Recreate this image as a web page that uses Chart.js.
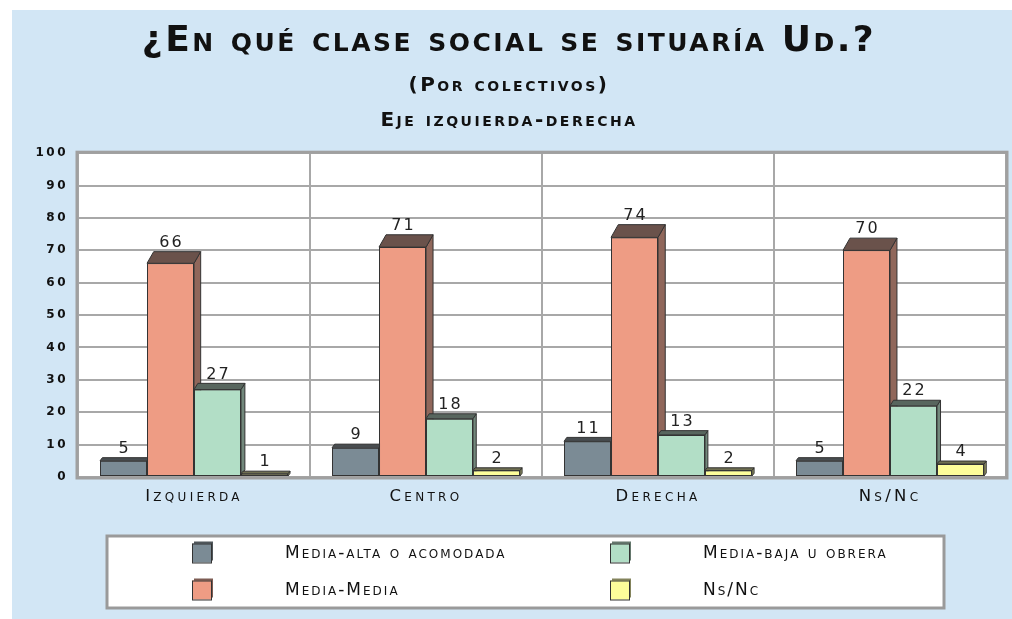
<!DOCTYPE html>
<html>
<head>
<meta charset="utf-8">
<script src="https://cdn.jsdelivr.net/npm/chart.js@4.4.1/dist/chart.umd.min.js"></script>
<style>
  html, body { margin: 0; padding: 0; background: #fff; }
  canvas { display: block; }
</style>
</head>
<body>
<canvas id="chart" width="1012" height="619"></canvas>
<script>
// data
const categories = ['Izquierda', 'Centro', 'Derecha', 'Ns/Nc'];
const seriesNames = ['Media-alta o acomodada', 'Media-Media', 'Media-baja u obrera', 'Ns/Nc'];
const mediaAlta = [5, 9, 11, 5];
const mediaMedia = [66, 71, 74, 70];
const mediaBaja = [27, 18, 13, 22];
const nsNc = [1, 2, 2, 4];
const yMin = 0;
const yMax = 100;
const yStep = 10;

const colors = ['#7b8b95', '#ee9c84', '#b2dec6', '#fdfd9a'];
const FONT = '"DejaVu Sans"';

// mix a hex colour toward dark grey for the 3D faces
const shade = (hex, k) => {
    const n = parseInt(hex.slice(1), 16);
    const r = (n >> 16) & 255, g = (n >> 8) & 255, b = n & 255;
    const m = c => Math.round(c * (1 - k) + 50 * k);
    return `rgb(${m(r)},${m(g)},${m(b)})`;
};

// blue panel + white plot area
const background = {
    id: 'background',
    beforeDraw(chart) {
        const { ctx, chartArea: a } = chart;
        ctx.save();
        ctx.fillStyle = '#fff';
        ctx.fillRect(0, 0, chart.width, chart.height);
        ctx.fillStyle = '#d2e6f5';
        ctx.fillRect(12, 10, chart.width - 12, chart.height - 10);
        ctx.fillStyle = '#fff';
        ctx.fillRect(a.left, a.top, a.right - a.left, a.bottom - a.top);
        ctx.restore();
        // spacing for titles and y ticks
        ctx.letterSpacing = '2.5px';
    },
    beforeDatasetsDraw(chart) {
        const { ctx, chartArea: a } = chart;
        ctx.save();
        ctx.strokeStyle = '#a0a0a0';
        ctx.lineWidth = 3;
        ctx.strokeRect(a.left - 1, a.top - 1, a.right - a.left + 2, a.bottom - a.top + 2);
        ctx.restore();
    }
};

// 3D tops and sides, then value labels
const bars3d = {
    id: 'bars3d',
    afterDatasetsDraw(chart) {
        const ctx = chart.ctx;
        const metas = chart.data.datasets.map((d, i) => chart.getDatasetMeta(i));
        const tops = [];
        ctx.save();
        ctx.letterSpacing = '0px';
        categories.forEach((c, j) => {
            metas.forEach((meta, i) => {
                const el = meta.data[j];
                const { x, y, base, width } = el.getProps(['x', 'y', 'base', 'width'], true);
                const h = base - y;
                const dx = 2 + 0.022 * h;
                const dy = 2.5 + 0.043 * h;
                const l = x - width / 2, r = x + width / 2;
                el.draw(ctx);
                const col = colors[i];
                ctx.lineWidth = 1;
                ctx.strokeStyle = '#333';
                // side
                ctx.fillStyle = shade(col, 0.5);
                ctx.beginPath();
                ctx.moveTo(r, y);
                ctx.lineTo(r + dx, y - dy);
                ctx.lineTo(r + dx, base - dy);
                ctx.lineTo(r, base);
                ctx.closePath();
                ctx.fill();
                ctx.stroke();
                // top
                ctx.fillStyle = shade(col, 0.7);
                ctx.beginPath();
                ctx.moveTo(l, y);
                ctx.lineTo(l + dx, y - dy);
                ctx.lineTo(r + dx, y - dy);
                ctx.lineTo(r, y);
                ctx.closePath();
                ctx.fill();
                ctx.stroke();
                tops.push({ x, y: y - dy, v: chart.data.datasets[i].data[j] });
            });
        });
        ctx.font = '16px ' + FONT;
        ctx.letterSpacing = '2px';
        ctx.fillStyle = '#222';
        ctx.textAlign = 'center';
        ctx.textBaseline = 'middle';
        tops.forEach(t => ctx.fillText(String(t.v), t.x + 1, t.y - 9));
        ctx.restore();
        // spacing for x tick labels (drawn after datasets)
        ctx.letterSpacing = '3.3px';
    },
    afterDraw(chart) {
        const ctx = chart.ctx;
        ctx.save();
        ctx.letterSpacing = '0px';
        // legend box
        ctx.fillStyle = '#fff';
        ctx.fillRect(107, 536, 837, 72);
        ctx.strokeStyle = '#9a9a9a';
        ctx.lineWidth = 3;
        ctx.strokeRect(107, 536, 837, 72);
        const cols = [192, 610];
        const rows = [553, 590];
        chart.data.datasets.forEach((ds, i) => {
            const sx = cols[Math.floor(i / 2)];
            const cy = rows[i % 2];
            const s = 19;
            ctx.lineWidth = 1;
            ctx.strokeStyle = '#333';
            ctx.fillStyle = shade(colors[i], 0.6);
            ctx.fillRect(sx + 2, cy - s / 2 - 2, s, s);
            ctx.fillStyle = colors[i];
            ctx.fillRect(sx, cy - s / 2, s, s);
            ctx.strokeRect(sx + 0.5, cy - s / 2 + 0.5, s, s);
            ctx.font = 'small-caps 17px ' + FONT;
            ctx.letterSpacing = '2px';
            ctx.fillStyle = '#111';
            ctx.textAlign = 'left';
            ctx.textBaseline = 'middle';
            ctx.fillText(ds.label, sx + 93, cy + 1);
        });
        ctx.restore();
    }
};

const makeSet = (i, data) => ({
    label: seriesNames[i],
    data,
    backgroundColor: colors[i],
    borderColor: '#333',
    borderWidth: 1,
    borderSkipped: false
});

new Chart(document.getElementById('chart'), {
    type: 'bar',
    data: {
        labels: categories,
        datasets: [
            makeSet(0, mediaAlta),
            makeSet(1, mediaMedia),
            makeSet(2, mediaBaja),
            makeSet(3, nsNc)
        ]
    },
    options: {
        responsive: false,
        animation: false,
        devicePixelRatio: 1,
        layout: { padding: { top: 10, left: 12, right: 6, bottom: 0 } },
        datasets: { bar: { categoryPercentage: 0.81, barPercentage: 1 } },
        plugins: {
            legend: { display: false },
            tooltip: { enabled: false },
            title: {
                display: true,
                text: '¿En qué clase social se situaría Ud.?',
                color: '#111',
                font: { family: FONT, size: 36, weight: 'small-caps bold', lineHeight: 1.2 },
                padding: { top: 10, bottom: 5 }
            },
            subtitle: {
                display: true,
                text: ['(Por colectivos)', 'Eje izquierda-derecha'],
                color: '#111',
                font: { family: FONT, size: 20, weight: 'small-caps bold', lineHeight: 1.75 },
                padding: { top: 0, bottom: 15 }
            }
        },
        scales: {
            x: {
                grid: { offset: true, color: '#a8a8a8', lineWidth: 2, drawTicks: false },
                border: { display: false },
                ticks: {
                    z: 1,
                    color: '#111',
                    padding: 10,
                    font: { family: FONT, size: 16.5, weight: 'small-caps normal' }
                },
                afterFit: s => { s.height = 142; }
            },
            y: {
                min: yMin,
                max: yMax,
                grid: { color: '#a8a8a8', lineWidth: 2, drawTicks: false },
                border: { display: false },
                ticks: {
                    stepSize: yStep,
                    color: '#111',
                    padding: 10,
                    font: { family: FONT, size: 12, weight: 'bold' }
                },
                afterFit: s => { s.width = 66; }
            }
        }
    },
    plugins: [background, bars3d]
});
</script>
</body>
</html>
